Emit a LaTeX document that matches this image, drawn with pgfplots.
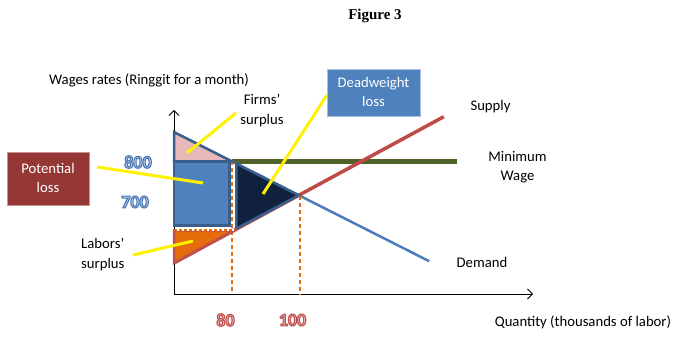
\documentclass[border=0pt]{standalone}
\usepackage{pgfplots}
\pgfplotsset{compat=1.18}
\usepackage{fontspec}
\setmainfont{Carlito}
\newfontfamily\timesfont{Liberation Serif}
\usetikzlibrary{arrows.meta}
\definecolor{demandc}{HTML}{4A7EBB}
\definecolor{supplyc}{HTML}{BE4B48}
\definecolor{wagec}{HTML}{4F6228}
\definecolor{pinkc}{HTML}{E6B9B8}
\definecolor{rectc}{HTML}{4F81BD}
\definecolor{rectb}{HTML}{3A5F8C}
\definecolor{navyc}{HTML}{10213D}
\definecolor{orangec}{HTML}{E46C0A}
\definecolor{redb}{HTML}{C0504D}
\definecolor{potc}{HTML}{953735}
\definecolor{potb}{HTML}{C49392}
\definecolor{dwb}{HTML}{A7BFDE}
\definecolor{numbluein}{HTML}{C6D9F1}
\definecolor{numredin}{HTML}{E6B9B8}
\newcommand\numblue[1]{{\color{numbluein}\special{pdf:literal direct 0.275 0.455 0.706 RG 1.1 w 2 Tr}#1\special{pdf:literal direct 0 Tr}}}
\newcommand\numred[1]{{\color{numredin}\special{pdf:literal direct 0.753 0.314 0.302 RG 1.1 w 2 Tr}#1\special{pdf:literal direct 0 Tr}}}
\begin{document}
\begin{tikzpicture}[x=1pt,y=1pt]
\useasboundingbox (0,0) rectangle (686,341);
\begin{axis}[
  at={(174pt,47pt)}, anchor=south west,
  scale only axis, width=359pt, height=184pt,
  xmin=62.94, xmax=168.53, ymin=387.5, ymax=962.5,
  axis lines=left,
  axis line style={line width=0.8pt, -{Straight Barb[length=5pt,width=10pt]}},
  xtick=\empty, ytick=\empty, clip=false]
% minimum wage
\addplot[wagec, line width=5pt] coordinates {(80,800) (146.2,800)};
% demand
\addplot[demandc, line width=2.5pt] coordinates {(63,893) (138,490)};
% supply
\addplot[supplyc, line width=3.5pt] coordinates {(63,485) (142.3,941.6)};
% dashed guides
\addplot[orangec, line width=2pt, dash pattern=on 4pt off 3pt] coordinates {(80,801.7) (80,387.5)};
\addplot[orangec, line width=2pt, dash pattern=on 4pt off 3pt] coordinates {(100,694.5) (100,387.5)};
% firms' surplus
\addplot[draw=rectb, fill=pinkc, line width=2.5pt] coordinates {(63,893) (63,801.7) (80,801.7)} -- cycle;
% potential loss rectangle
\addplot[draw=rectb, fill=rectc, line width=2.5pt] coordinates {(63,601) (63,801.7) (79.2,801.7) (79.2,601)} -- cycle;
% deadweight loss triangle
\addplot[draw=rectb, fill=navyc, line width=2.5pt] coordinates {(81.3,794.7) (81.3,592) (99.65,696.1)} -- cycle;
% labors' surplus
\addplot[draw=redb, fill=orangec, line width=2.5pt] coordinates {(63,586) (63,485) (80.5,586)} -- cycle;
\addplot[white, line width=1.5pt] coordinates {(63,588) (80.5,588)};
\addplot[orangec, line width=1.5pt, dash pattern=on 3pt off 2pt] coordinates {(63,588) (80.5,588)};
\end{axis}
% callout lines
\draw[yellow, line width=3pt] (97,174) -- (203,158);
\draw[yellow, line width=3pt] (187,188) -- (236,228);
\draw[yellow, line width=3pt] (263,147) -- (327,246);
\draw[yellow, line width=3pt] (133,86) -- (193,100);
% boxes
\draw[potb, fill=potc, line width=0.8pt] (7,136) rectangle (89,188.3);
\node[white, align=center, inner sep=0, font=\fontsize{14.7}{19.5}\selectfont] at (48,163) {Potential\\loss};
\draw[dwb, fill=rectc, line width=0.8pt] (327,225) rectangle (420,272);
\node[white, align=center, inner sep=0, font=\fontsize{14.7}{19.5}\selectfont] at (373.5,249) {Deadweight\\loss};
% texts
\node[inner sep=0, font=\timesfont\bfseries\fontsize{15}{18}\selectfont] at (375,325) {Figure 3};
\node[inner sep=0, font=\fontsize{14.7}{19.5}\selectfont] at (149,261) {Wages rates (Ringgit for a month)};
\node[inner sep=0, align=center, font=\fontsize{14.7}{19.5}\selectfont] at (262,230.5) {Firms’\\surplus};
\node[inner sep=0, font=\fontsize{14.7}{19.5}\selectfont] at (490.5,234) {Supply};
\node[inner sep=0, align=center, font=\fontsize{14.7}{19.5}\selectfont] at (517.5,174) {Minimum\\Wage};
\node[inner sep=0, font=\fontsize{14.7}{19.5}\selectfont] at (482,79) {Demand};
\node[inner sep=0, anchor=west, align=left, font=\fontsize{14.7}{19.5}\selectfont] at (81,86.5) {Labors’\\surplus};
\node[inner sep=0, font=\fontsize{14.7}{19.5}\selectfont] at (583,19) {Quantity (thousands of labor)};
% value labels
\node[inner sep=0, font=\bfseries\fontsize{18}{20}\selectfont] at (138,179) {\numblue{800}};
\node[inner sep=0, font=\bfseries\fontsize{18}{20}\selectfont] at (135,139) {\numblue{700}};
\node[inner sep=0, font=\bfseries\fontsize{18}{20}\selectfont] at (225.5,21) {\numred{80}};
\node[inner sep=0, font=\bfseries\fontsize{18}{20}\selectfont] at (292.5,21) {\numred{100}};
\end{tikzpicture}
\end{document}
